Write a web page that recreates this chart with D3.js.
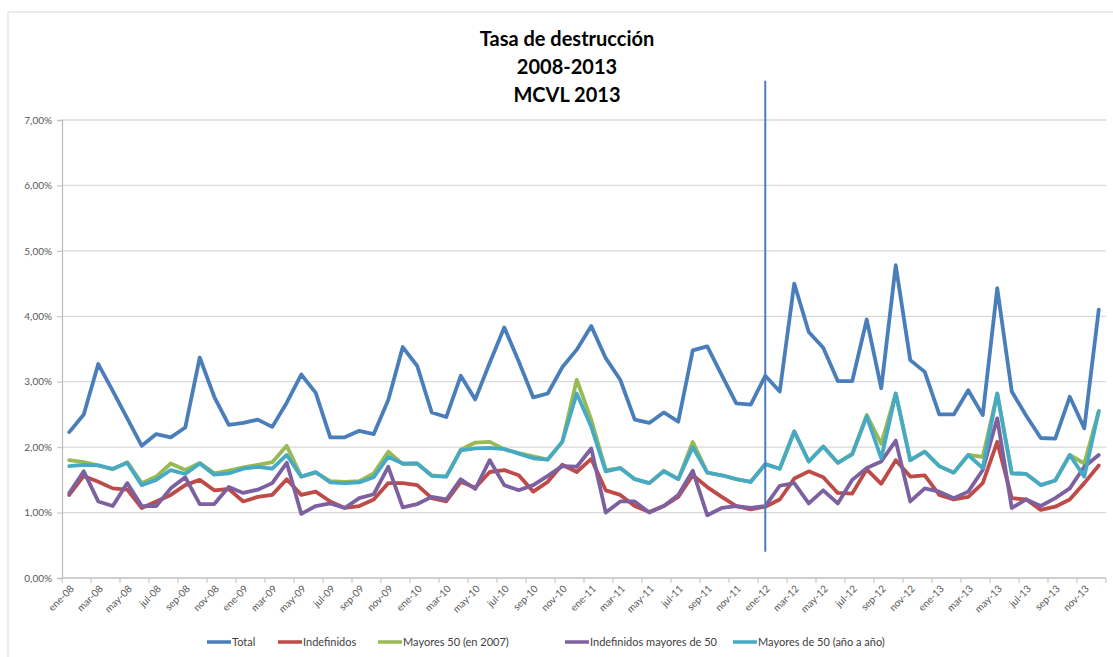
<!DOCTYPE html>
<meta charset="utf-8">
<style>
body { margin: 0; background: #fff; }
text { font-family: Lato, "Open Sans", sans-serif; }
.title { font-weight: bold; font-size: 20px; fill: #000; }
.axis text { font-size: 10px; fill: #595959; }
.legend text { font-size: 11px; fill: #404040; }
</style>
<body>
<div id="chart"></div>
<script src="https://cdn.jsdelivr.net/npm/d3@7"></script>
<script>
var width = 1113, height = 657;

// meses ene-08 .. dic-13
var monthNames = ["ene","feb","mar","abr","may","jun","jul","ago","sep","oct","nov","dic"];
var years = ["08","09","10","11","12","13"];
var months = [];
years.forEach(function(y) { monthNames.forEach(function(m) { months.push(m + "-" + y); }); });

var yTicks = [0, 1, 2, 3, 4, 5, 6, 7];

var total = [2.23,2.50,3.27,2.86,2.44,2.02,2.20,2.15,2.30,3.37,2.77,2.34,
  2.37,2.42,2.31,2.68,3.11,2.83,2.15,2.15,2.25,2.20,2.72,3.53,
  3.24,2.53,2.46,3.09,2.73,3.29,3.83,3.31,2.76,2.82,3.22,3.49,
  3.85,3.36,3.03,2.42,2.37,2.53,2.39,3.48,3.54,3.10,2.67,2.65,
  3.09,2.85,4.50,3.76,3.52,3.01,3.01,3.95,2.90,4.78,3.33,3.15,
  2.50,2.50,2.87,2.49,4.43,2.85,2.48,2.14,2.13,2.77,2.29,4.10];

var indefinidos = [1.27,1.56,1.47,1.37,1.35,1.07,1.17,1.27,1.42,1.50,1.34,1.36,
  1.17,1.24,1.27,1.51,1.27,1.32,1.17,1.07,1.10,1.20,1.45,1.45,
  1.42,1.22,1.17,1.47,1.38,1.62,1.65,1.57,1.32,1.47,1.73,1.62,
  1.82,1.34,1.27,1.10,1.01,1.10,1.24,1.57,1.39,1.24,1.10,1.05,
  1.09,1.20,1.52,1.63,1.54,1.30,1.29,1.66,1.44,1.80,1.55,1.57,
  1.27,1.20,1.24,1.45,2.08,1.22,1.20,1.04,1.09,1.20,1.45,1.72];

var mayores2007 = [1.80,1.77,1.72,1.66,1.77,1.45,1.55,1.75,1.65,1.76,1.60,1.64,
  1.69,1.73,1.77,2.02,1.55,1.61,1.48,1.47,1.48,1.60,1.93,1.74,
  1.75,1.57,1.55,1.96,2.07,2.08,1.97,1.91,1.86,1.81,2.08,3.03,
  2.42,1.65,1.68,1.51,1.45,1.64,1.51,2.08,1.61,1.57,1.51,1.47,
  1.74,1.67,2.24,1.78,2.01,1.76,1.90,2.49,2.05,2.82,1.80,1.93,
  1.71,1.61,1.88,1.85,2.82,1.60,1.59,1.42,1.49,1.88,1.75,2.55];

var indefMayores = [1.30,1.63,1.17,1.10,1.45,1.10,1.10,1.37,1.54,1.13,1.13,1.39,
  1.30,1.35,1.45,1.76,0.98,1.10,1.14,1.07,1.22,1.28,1.70,1.08,
  1.13,1.24,1.20,1.51,1.36,1.80,1.42,1.34,1.42,1.56,1.71,1.70,
  1.98,1.00,1.17,1.17,1.00,1.10,1.27,1.64,0.96,1.07,1.10,1.07,
  1.10,1.41,1.45,1.14,1.34,1.14,1.50,1.68,1.78,2.10,1.17,1.37,
  1.32,1.22,1.32,1.65,2.44,1.07,1.20,1.10,1.22,1.37,1.70,1.88];

var mayoresAnual = [1.71,1.73,1.72,1.67,1.76,1.42,1.50,1.65,1.59,1.75,1.58,1.60,
  1.67,1.70,1.67,1.88,1.55,1.62,1.46,1.45,1.46,1.54,1.85,1.75,
  1.75,1.56,1.55,1.95,1.98,1.99,1.97,1.90,1.83,1.81,2.08,2.82,
  2.31,1.63,1.68,1.51,1.45,1.63,1.51,2.00,1.61,1.57,1.51,1.47,
  1.74,1.67,2.24,1.78,2.01,1.76,1.89,2.47,1.83,2.82,1.80,1.93,
  1.71,1.61,1.88,1.68,2.82,1.60,1.59,1.42,1.49,1.88,1.55,2.55];

var seriesNames = ["Total", "Indefinidos", "Mayores 50 (en 2007)", "Indefinidos mayores de 50", "Mayores de 50 (año a año)"];
var seriesColors = ["#4a7ebb", "#be4b48", "#98b954", "#7d60a0", "#46aac5"];
var seriesValues = [total, indefinidos, mayores2007, indefMayores, mayoresAnual];

// marca vertical en ene-12, de 0,4% a 7,6%
var markerMonth = "ene-12";
var markerRange = [0.4, 7.6];

var svg = d3.select("#chart").append("svg")
    .attr("width", width)
    .attr("height", height);

// borde de la hoja
svg.append("path")
    .attr("d", "M8,657V12H1113")
    .attr("fill", "none")
    .attr("stroke", "#d9d9d9");

var x = d3.scaleBand()
    .domain(months)
    .range([62, 1106])
    .padding(0);

var y = d3.scaleLinear()
    .domain([0, 7])
    .range([578, 120]);

function cx(m) { return x(m) + x.bandwidth() / 2; }

// gridlines
svg.append("g")
  .selectAll("line")
  .data(yTicks.filter(function(d) { return d > 0; }))
  .enter().append("line")
    .attr("x1", 62).attr("x2", 1106)
    .attr("y1", function(d) { return y(d); })
    .attr("y2", function(d) { return y(d); })
    .attr("stroke", "#d9d9d9")
    .attr("stroke-width", 1.3);

// y axis
var yAxis = svg.append("g")
    .attr("class", "axis")
    .attr("transform", "translate(62,0)")
    .call(d3.axisLeft(y)
      .tickValues(yTicks)
      .tickSize(5)
      .tickPadding(5)
      .tickFormat(function(d) { return d3.format(".2f")(d).replace(".", ",") + "%"; }));
yAxis.select(".domain").attr("stroke", "#bfbfbf").attr("stroke-width", 1.3);
yAxis.selectAll(".tick line").attr("stroke", "#bfbfbf");

// x axis
var xAxis = svg.append("g")
    .attr("class", "axis")
    .attr("transform", "translate(0,578)");
xAxis.append("line")
    .attr("x1", 62).attr("x2", 1106)
    .attr("stroke", "#bfbfbf").attr("stroke-width", 1.3);
xAxis.selectAll(".tk")
  .data(months.filter(function(d, i) { return i % 2 === 0; }).concat(["end"]))
  .enter().append("line")
    .attr("class", "tk")
    .attr("x1", function(d) { return d === "end" ? x.range()[1] : x(d); })
    .attr("x2", function(d) { return d === "end" ? x.range()[1] : x(d); })
    .attr("y1", 0).attr("y2", 5)
    .attr("stroke", "#bfbfbf");
xAxis.selectAll("text")
  .data(months.filter(function(d, i) { return i % 2 === 0; }))
  .enter().append("text")
    .attr("transform", function(d) { return "translate(" + (cx(d) + 3) + ",9) rotate(-45)"; })
    .attr("text-anchor", "end")
    .attr("dy", "0.35em")
    .text(function(d) { return d; });

// lines
var line = d3.line()
    .x(function(d, i) { return cx(months[i]); })
    .y(function(d) { return y(d); });

svg.append("g")
  .selectAll("path")
  .data(seriesValues)
  .enter().append("path")
    .attr("d", line)
    .attr("fill", "none")
    .attr("stroke", function(d, i) { return seriesColors[i]; })
    .attr("stroke-width", 3.8)
    .attr("stroke-linejoin", "round")
    .attr("stroke-linecap", "round");

// vertical marker
svg.append("line")
    .attr("x1", cx(markerMonth)).attr("x2", cx(markerMonth))
    .attr("y1", y(markerRange[1])).attr("y2", y(markerRange[0]))
    .attr("stroke", "#4a7ebb")
    .attr("stroke-width", 2);

// title
var titleLines = ["Tasa de destrucción", "2008-2013", "MCVL 2013"];
svg.append("g")
  .selectAll("text")
  .data(titleLines)
  .enter().append("text")
    .attr("class", "title")
    .attr("x", 567)
    .attr("y", function(d, i) { return 46 + i * 28; })
    .attr("text-anchor", "middle")
    .text(function(d) { return d; });

// legend
var legendX = [207, 278, 378, 565, 733];
var legend = svg.append("g")
    .attr("class", "legend")
    .attr("transform", "translate(0,642)");
var li = legend.selectAll("g")
  .data(seriesNames)
  .enter().append("g")
    .attr("transform", function(d, i) { return "translate(" + legendX[i] + ",0)"; });
li.append("line")
    .attr("x1", 0).attr("x2", 24)
    .attr("stroke", function(d, i) { return seriesColors[i]; })
    .attr("stroke-width", 3.5);
li.append("text")
    .attr("x", 25)
    .attr("dy", "0.35em")
    .text(function(d) { return d; });
</script>
</body>
